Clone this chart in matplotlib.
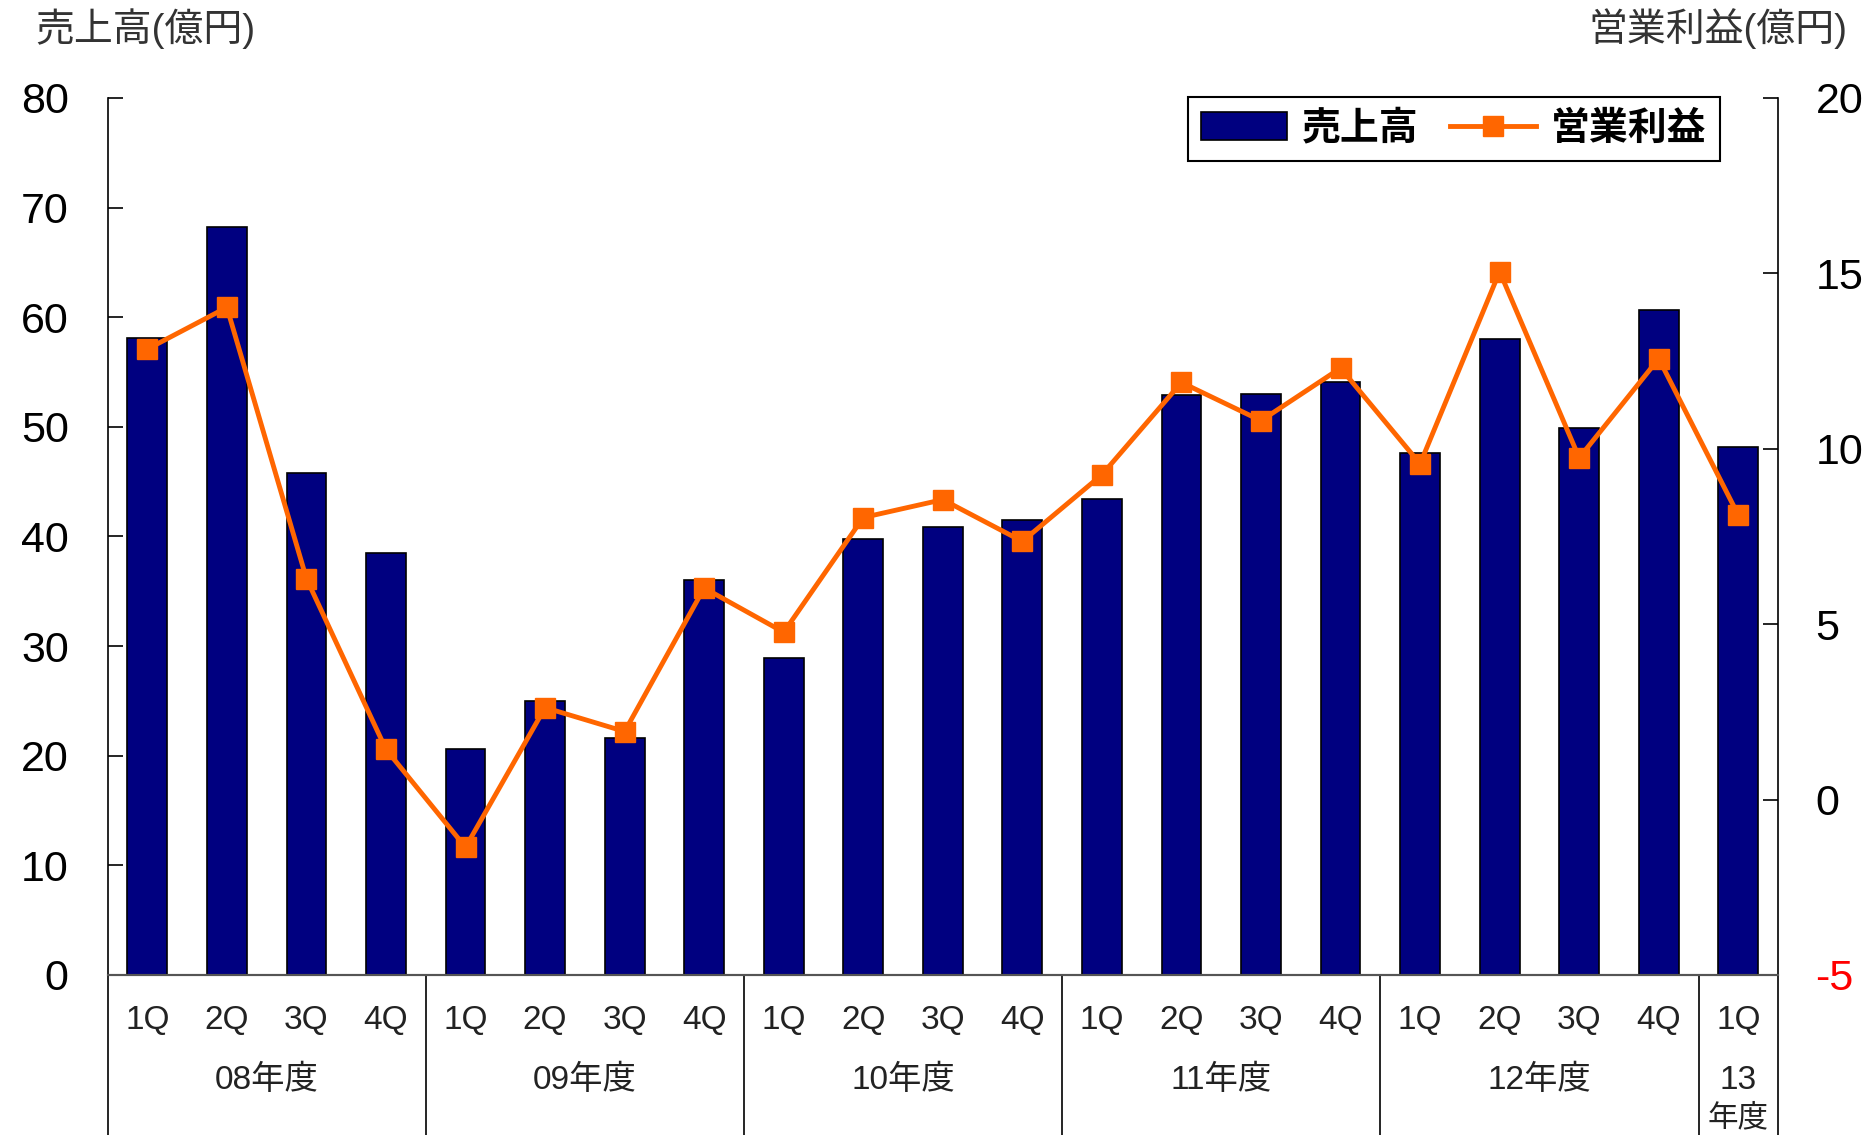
import matplotlib
matplotlib.use("Agg")
import matplotlib.pyplot as plt
import matplotlib.transforms as mtransforms

plt.rcParams['font.family'] = ['Liberation Sans', 'Noto Sans CJK JP', 'DejaVu Sans']
plt.rcParams['axes.unicode_minus'] = False

quarters = ["1Q", "2Q", "3Q", "4Q"] * 5 + ["1Q"]
years = ["08年度", "09年度", "10年度", "11年度", "12年度", "13\n年度"]
year_sizes = [4, 4, 4, 4, 4, 1]
sales = [58.1, 68.2, 45.8, 38.5, 20.6, 25.0, 21.6, 36.0, 28.9, 39.8, 40.9,
         41.5, 43.4, 52.9, 53.0, 54.1, 47.6, 58.0, 49.9, 60.7, 48.2]
profit = [12.84, 14.03, 6.30, 1.43, -1.36, 2.62, 1.94, 6.03, 4.77, 8.04, 8.55,
          7.36, 9.26, 11.89, 10.80, 12.30, 9.57, 15.05, 9.74, 12.57, 8.11]
left_ticks = [0, 10, 20, 30, 40, 50, 60, 70, 80]
right_ticks = [-5, 0, 5, 10, 15, 20]

fig = plt.figure(figsize=(18.74, 11.35), dpi=100)
ax = fig.add_axes([0.0574, 0.141, 0.8914, 0.7727])
ax2 = ax.twinx()

x = list(range(len(sales)))
bars = ax.bar(x, sales, width=0.5, color='#000080', edgecolor='black', linewidth=1.2,
              label='売上高', zorder=2)
line, = ax2.plot(x, profit, color='#FF6600', linewidth=3.5, marker='s', markersize=14,
                 label='営業利益', zorder=3)

ax.set_xlim(-0.5, len(sales) - 0.5)
ax.set_ylim(0, 80)
ax2.set_ylim(-5, 20)
ax.set_yticks(left_ticks)
ax2.set_yticks(right_ticks)
ax.set_xticks([])

ax.tick_params(axis='y', direction='in', length=11, width=1.2, labelsize=31, pad=28)
ax2.tick_params(axis='y', direction='in', length=11, width=1.2, labelsize=31, pad=27)
ax2.get_yticklabels()[0].set_color('red')

for a in (ax, ax2):
    a.spines['top'].set_visible(False)
    a.spines['left'].set_linewidth(1.2)
    a.spines['right'].set_linewidth(1.2)
    a.spines['bottom'].set_color('#555555')
    a.spines['bottom'].set_linewidth(1.5)
ax.spines['right'].set_visible(False)
ax2.spines['left'].set_visible(False)

# category box below the axis
trans = mtransforms.blended_transform_factory(ax.transData, ax.transAxes)
depth = -0.19
bounds = [-0.5]
acc = -0.5
for s in year_sizes:
    acc += s
    bounds.append(acc)
for b in bounds:
    ax.plot([b, b], [0, depth], transform=trans, color='black', linewidth=1.2,
            clip_on=False)

qy = -0.052
for i, q in enumerate(quarters):
    ax.text(i, qy, q, transform=trans, ha='center', va='center', fontsize=24,
            color='#222222')
start = -0.5
for yl, s in zip(years, year_sizes):
    cx = start + s / 2
    start += s
    if '\n' in yl:
        a, b = yl.split('\n')
        ax.text(cx, -0.12, a, transform=trans, ha='center', va='center', fontsize=24,
                color='#222222')
        ax.text(cx, -0.163, b, transform=trans, ha='center', va='center', fontsize=22,
                color='#222222')
    else:
        ax.text(cx, -0.12, yl, transform=trans, ha='center', va='center', fontsize=24,
                color='#222222')

fig.text(0.019, 0.975, "売上高(億円)", ha='left', va='center', fontsize=28, color='#333333')
fig.text(0.986, 0.975, "営業利益(億円)", ha='right', va='center', fontsize=28, color='#333333')

leg = ax2.legend([bars, line], ['売上高', '営業利益'], loc='upper right',
                 bbox_to_anchor=(0.977, 1.023), ncol=2, fancybox=False,
                 edgecolor='black', framealpha=1, handlelength=2.2,
                 columnspacing=0.8, handletextpad=0.4, borderpad=0.35,
                 prop={'size': 28, 'weight': 'bold'})
leg.get_frame().set_linewidth(1.5)

fig.savefig("out.png", dpi=100)
